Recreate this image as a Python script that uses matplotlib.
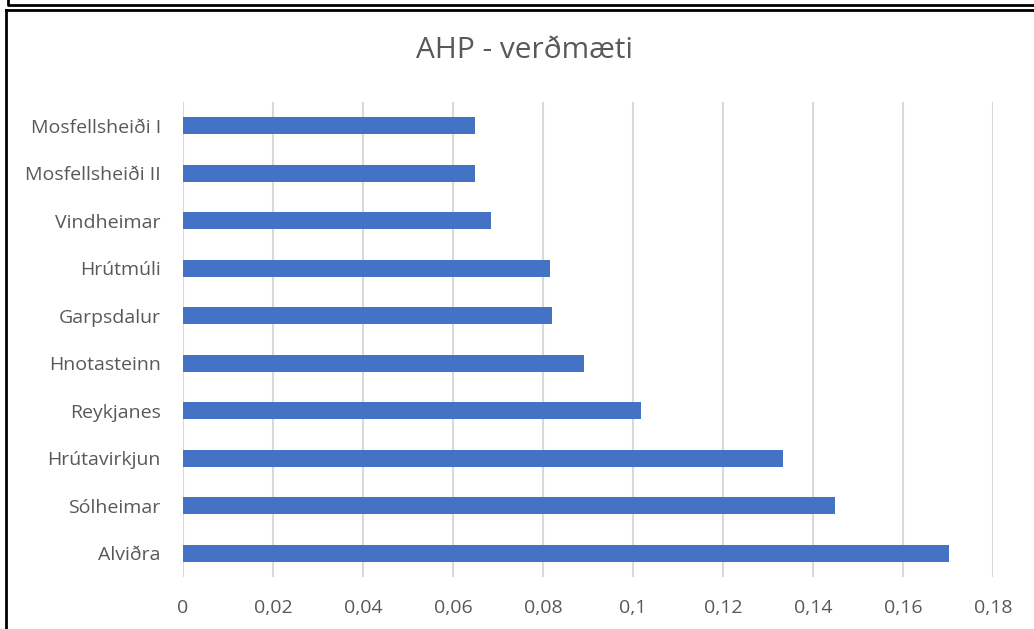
import matplotlib.pyplot as plt
from matplotlib.lines import Line2D

# Data (top to bottom as shown in the chart)
places = ['Mosfellsheiði I', 'Mosfellsheiði II', 'Vindheimar', 'Hrútmúli', 'Garpsdalur',
          'Hnotasteinn', 'Reykjanes', 'Hrútavirkjun', 'Sólheimar', 'Alviðra']
values = [0.0649, 0.0649, 0.0684, 0.0816, 0.0819, 0.0890, 0.1018, 0.1333, 0.1449, 0.1702]
ticks = [0, 0.02, 0.04, 0.06, 0.08, 0.1, 0.12, 0.14, 0.16, 0.18]
tick_labels = ['0', '0,02', '0,04', '0,06', '0,08', '0,1', '0,12', '0,14', '0,16', '0,18']

plt.rcParams['font.family'] = ['Open Sans', 'DejaVu Sans']
text_color = '#595959'

W, H = 1034, 629
fig = plt.figure(figsize=(W / 100, H / 100), dpi=100)
ax = fig.add_axes([183 / W, 1 - 577 / H, (993 - 183) / W, (577 - 102) / H])

ypos = list(range(len(places)))
ax.barh(ypos, values, height=0.36, color='#4472C4', zorder=3)
ax.set_ylim(len(places) - 0.5, -0.5)
ax.set_yticks(ypos)
ax.set_yticklabels(places, fontsize=14, color=text_color)

ax.set_xlim(0, 0.18)
ax.set_xticks(ticks)
ax.set_xticklabels(tick_labels, fontsize=14, color=text_color)
ax.grid(axis='x', color='#d9d9d9', linewidth=1.5, zorder=0)
ax.tick_params(axis='both', length=0)
ax.tick_params(axis='y', pad=16)
ax.tick_params(axis='x', pad=16)
for s in ax.spines.values():
    s.set_visible(False)

fig.text(524 / W, 1 - 51 / H, 'AHP - verðmæti', fontsize=21.5, color=text_color,
         ha='center', va='center')

# Frame borders from the original screenshot
def px_line(xs, ys, lw=2):
    fig.add_artist(Line2D([x / W for x in xs], [1 - y / H for y in ys],
                          color='black', linewidth=lw, transform=fig.transFigure))

px_line([8, 8, W], [0, 4.5, 4.5])
px_line([5.5, 5.5], [H, 9.5])
px_line([5.5, W], [9.5, 9.5])

fig.savefig('out.png', dpi=100)
